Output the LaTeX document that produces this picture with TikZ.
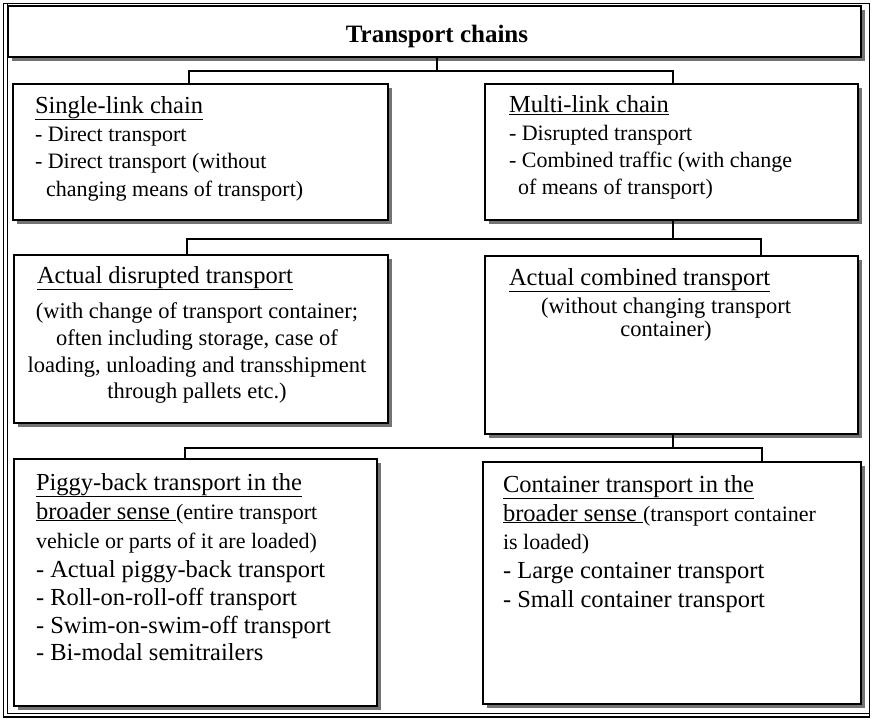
\documentclass[tikz,border=0pt]{standalone}
\usepackage{fontspec}
\setmainfont{Liberation Serif}
\usetikzlibrary{shadows}
\tikzset{
  x=1pt, y=-1pt,
  box/.style={draw, line width=1.3pt, fill=white, inner sep=0pt, outer sep=0pt, anchor=north west,
    drop shadow={shadow xshift=4pt, shadow yshift=-4pt, fill=black!55, opacity=1}},
  conn/.style={line width=1.2pt},
  txt/.style={inner sep=0pt, outer sep=0pt, anchor=base west, font=\fontsize{22}{26}\selectfont},
  ctxt/.style={txt, anchor=base, font=\fontsize{22.5}{26}\selectfont},
  hd/.style={txt, font=\fontsize{24.5}{28}\selectfont},
  big/.style={txt, font=\fontsize{24.5}{28}\selectfont},
  titletxt/.style={inner sep=0pt, outer sep=0pt, anchor=base, font=\fontsize{25}{29}\selectfont\bfseries}
}
\newcommand{\smallpar}{\fontsize{22}{25}\selectfont}
\begin{document}
\begin{tikzpicture}
\useasboundingbox (0,0) rectangle (873,720);
\node[draw, line width=1.3pt, minimum width=866pt, minimum height=713.5pt, anchor=north west, outer sep=0pt, inner sep=0pt] (frame) at (3.5,3.5) {};
\coordinate (fi) at (7.5,713.5);
\draw[line width=1pt] (frame.north west -| fi) -- (fi) -- (fi -| frame.east);

\node[box, minimum width=853pt, minimum height=51pt] (title) at (8,6) {};
\node[titletxt] (titlet) at (437,42) {Transport chains};

\node[box, minimum width=375pt, minimum height=136pt] (single) at (13,84) {};
\node[box, minimum width=373pt, minimum height=136pt] (multi) at (485,84) {};
\node[box, minimum width=374pt, minimum height=168pt] (disr) at (14,255) {};
\node[box, minimum width=373pt, minimum height=178pt] (comb) at (485,256) {};
\node[box, minimum width=363pt, minimum height=247pt] (piggy) at (14,459) {};
\node[box, minimum width=378pt, minimum height=242pt] (cont) at (483,462) {};

% connectors
\coordinate (ta) at (437,0);
\coordinate (xa) at (189,71);
\coordinate (xb) at (673,71);
\coordinate (ya) at (187,239);
\coordinate (yb) at (761,239);
\coordinate (za) at (185,448);
\coordinate (zb) at (762,448);
\draw[conn] (title.south -| ta) -- (ta |- xa);
\draw[conn] (single.north -| xa) -- (xa) -- (xb) -- (multi.north -| xb);
\draw[conn] (multi.south -| xb) -- (xb |- ya);
\draw[conn] (disr.north -| ya) -- (ya) -- (yb) -- (comb.north -| yb);
\draw[conn] (comb.south -| xb) -- (xb |- za);
\draw[conn] (piggy.north -| za) -- (za) -- (zb) -- (cont.north -| zb);

% single-link
\node[hd] (s1) at (35,113) {\underline{Single-link chain}};
\node[txt] (s2) at (35,141) {- Direct transport};
\node[txt] (s3) at (35,168.5) {- Direct transport (without};
\node[txt] (s4) at (46,196) {changing means of transport)};
% multi-link
\node[hd] (m1) at (509,112.5) {\underline{Multi-link chain}};
\node[txt] (m2) at (509,140) {- Disrupted transport};
\node[txt] (m3) at (509,167) {- Combined traffic (with change};
\node[txt] (m4) at (518,194.5) {of means of transport)};
% actual disrupted
\node[hd] (d1) at (37,283) {\underline{Actual disrupted transport}};
\node[ctxt] (d2) at (197,318) {(with change of transport container;};
\node[ctxt] (d3) at (197,345) {often including storage, case of};
\node[ctxt] (d4) at (197,372) {loading, unloading and transshipment};
\node[ctxt] (d5) at (197,398) {through pallets etc.)};
% actual combined
\node[hd] (c1) at (509,285) {\underline{Actual combined transport}};
\node[ctxt] (c2) at (666,313) {(without changing transport};
\node[ctxt] (c3) at (666,336) {container)};
% piggy-back
\node[big] (p1) at (36,490) {\underline{Piggy-back transport in the}};
\node[big] (p2) at (36,519) {\underline{broader sense\ }{\smallpar(entire transport}};
\node[big] (p3) at (36,548) {\smallpar vehicle or parts of it are loaded)};
\node[big] (p4) at (36,577) {- Actual piggy-back transport};
\node[big] (p5) at (36,605) {- Roll-on-roll-off transport};
\node[big] (p6) at (36,633) {- Swim-on-swim-off transport};
\node[big] (p7) at (36,660) {- Bi-modal semitrailers};
% container
\node[big] (k1) at (503,492) {\underline{Container transport in the}};
\node[big] (k2) at (503,521) {\underline{broader sense\ }{\smallpar(transport container}};
\node[big] (k3) at (503,549) {\smallpar is loaded)};
\node[big] (k4) at (503,578) {- Large container transport};
\node[big] (k5) at (503,607) {- Small container transport};
\end{tikzpicture}
\end{document}
